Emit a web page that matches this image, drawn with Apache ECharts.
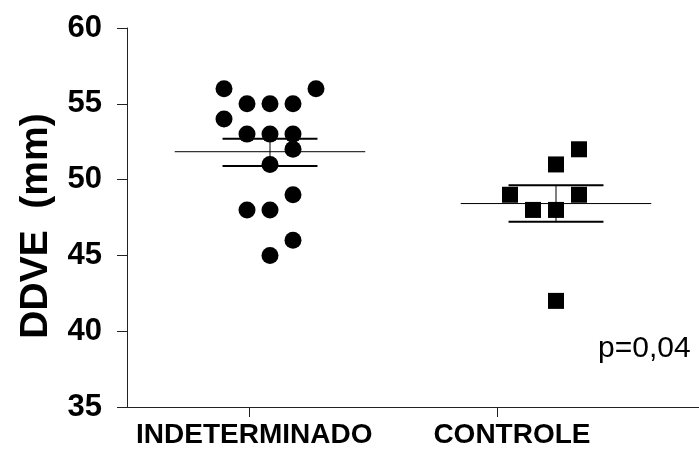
<!DOCTYPE html>
<html>
<head>
<meta charset="utf-8">
<script src="https://cdn.jsdelivr.net/npm/echarts@6/dist/echarts.min.js"></script>
<style>html,body{margin:0;padding:0;background:#fff;}#c{width:699px;height:450px;}</style>
</head>
<body>
<div id="c"></div>
<script>
// ---- data ----
var categories = ['INDETERMINADO', 'CONTROLE'];
var categoryPos = [1, 2];
var tickPositions = [0.927, 1.794];     // where the x ticks sit
var labelPositions = [0.945, 1.846];    // where the x labels are centred
var yTicks = [35, 40, 45, 50, 55, 60];

// jitter slot (-2..2) and value for each point
var indetSlots  = [-2, 2, -1, 0, 1, -2, -1, 0, 1, 1, 0, 1, -1, 0, 1, 0];
var indetValues = [56, 56, 55, 55, 55, 54, 53, 53, 53, 52, 51, 49, 48, 48, 46, 45];
var controlSlots  = [1, 0, -2, 1, -1, 0, 0];
var controlValues = [52, 51, 49, 49, 48, 48, 42];

var means    = [51.84, 48.42];
var semUpper = [52.70, 49.62];
var semLower = [50.90, 47.22];

var pValueText = 'p=0,04';
var yTitle = 'DDVE  (mm)';

// ---- build ----
var SLOT = 0.0804;
function pts(center, slots, vals) {
  return vals.map(function (v, i) { return [center + slots[i] * SLOT, v]; });
}
var font = '"Liberation Sans", Arial, sans-serif';
var chart = echarts.init(document.getElementById('c'), null, {renderer: 'canvas'});
chart.setOption({
  animation: false,
  backgroundColor: '#fff',
  grid: {left: 127, right: 0, top: 28, bottom: 43, containLabel: false},
  xAxis: {
    type: 'value', min: 0.5, max: 2.5,
    splitLine: {show: false},
    axisLine: {show: true, lineStyle: {color: '#222', width: 1}},
    axisTick: {show: true, customValues: tickPositions, length: 10, lineStyle: {color: '#222'}},
    axisLabel: {
      show: true, customValues: labelPositions, margin: 14,
      fontFamily: font, fontWeight: 'bold', fontSize: 28, color: '#000',
      formatter: function (v) {
        var best = 0, d = 1e9;
        labelPositions.forEach(function (p, i) { if (Math.abs(p - v) < d) { d = Math.abs(p - v); best = i; } });
        return categories[best];
      }
    }
  },
  yAxis: {
    type: 'value', min: yTicks[0], max: yTicks[yTicks.length - 1], interval: 5,
    splitLine: {show: false},
    axisLine: {show: true, lineStyle: {color: '#222', width: 1}},
    axisTick: {show: true, length: 10, lineStyle: {color: '#222'}},
    axisLabel: {fontFamily: font, fontWeight: 'bold', fontSize: 31, color: '#000', margin: 25}
  },
  series: [
    {
      type: 'scatter', symbol: 'circle', symbolSize: 17,
      itemStyle: {color: '#000', opacity: 1},
      data: pts(categoryPos[0], indetSlots, indetValues), z: 3
    },
    {
      type: 'scatter', symbol: 'rect', symbolSize: 16,
      itemStyle: {color: '#000', opacity: 1},
      data: pts(categoryPos[1], controlSlots, controlValues), z: 3
    },
    {
      type: 'custom', z: 4,
      data: categoryPos.map(function (c, i) { return [c, means[i], semUpper[i], semLower[i]]; }),
      renderItem: function (params, api) {
        var x = api.value(0);
        var m = api.coord([x, api.value(1)]);
        var u = api.coord([x, api.value(2)]);
        var l = api.coord([x, api.value(3)]);
        var mw = api.size([0.333, 0])[0];
        var cw = api.size([0.166, 0])[0];
        var st = {stroke: '#000', lineWidth: 1};
        var st2 = {stroke: '#000', lineWidth: 2};
        return {
          type: 'group',
          children: [
            {type: 'line', shape: {x1: m[0] - mw, y1: m[1], x2: m[0] + mw, y2: m[1]}, style: st},
            {type: 'line', shape: {x1: u[0], y1: u[1], x2: l[0], y2: l[1]}, style: st},
            {type: 'line', shape: {x1: u[0] - cw, y1: u[1], x2: u[0] + cw, y2: u[1]}, style: st2},
            {type: 'line', shape: {x1: l[0] - cw, y1: l[1], x2: l[0] + cw, y2: l[1]}, style: st2}
          ]
        };
      }
    }
  ],
  graphic: [
    {
      type: 'text', x: 36, y: 226, rotation: Math.PI / 2,
      style: {text: yTitle, fontFamily: font, fontWeight: 'bold', fontSize: 39, fill: '#000',
              align: 'center', verticalAlign: 'middle'}
    },
    {
      type: 'text', left: 598, top: 334,
      style: {text: pValueText, fontFamily: font, fontSize: 30, fill: '#000'}
    }
  ]
});
</script>
</body>
</html>
